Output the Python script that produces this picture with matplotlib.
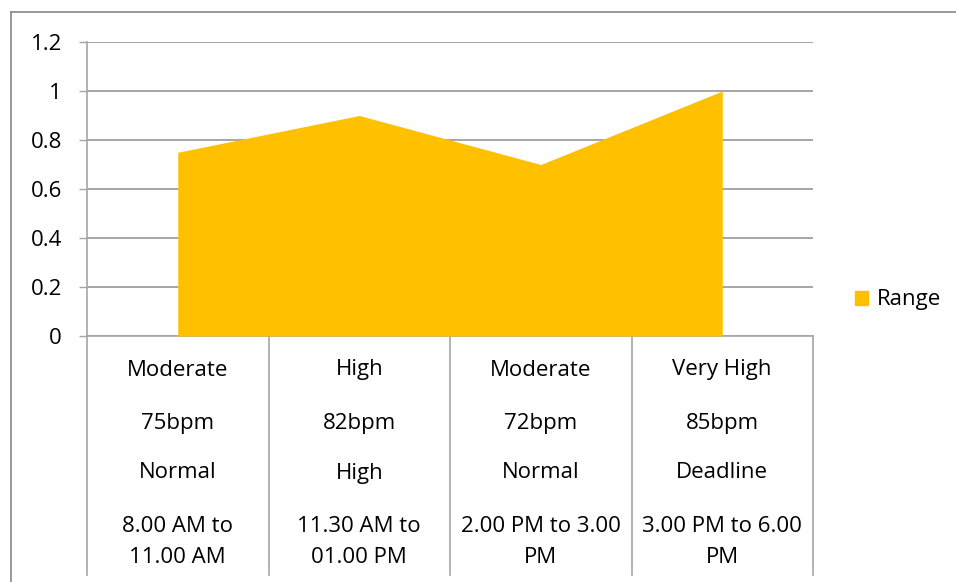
import matplotlib
matplotlib.use("Agg")
import matplotlib.pyplot as plt
from matplotlib.lines import Line2D
from matplotlib.patches import Patch
from matplotlib.transforms import blended_transform_factory
import numpy as np

plt.rcParams['font.family'] = ['Open Sans', 'DejaVu Sans']

# data
levels = ["Moderate", "High", "Moderate", "Very High"]
heart_rate = ["75bpm", "82bpm", "72bpm", "85bpm"]
status = ["Normal", "High", "Normal", "Deadline"]
times = ["8.00 AM to\n11.00 AM", "11.30 AM to\n01.00 PM",
         "2.00 PM to 3.00\nPM", "3.00 PM to 6.00\nPM"]
range_values = [0.75, 0.9, 0.7, 1.0]
y_ticks = [0, 0.2, 0.4, 0.6, 0.8, 1, 1.2]

W, H = 956, 582
FS = 16
fig = plt.figure(figsize=(W / 100, H / 100), dpi=100)

def fy(ypix):
    return 1 - ypix / H

# outer chart border (left and top only visible)
fig.add_artist(Line2D([11 / W, 11 / W], [0, fy(12)], color='#878787', lw=1.2))
fig.add_artist(Line2D([11 / W, 1], [fy(12), fy(12)], color='#878787', lw=1.2))

ax = fig.add_axes([87 / W, fy(336), (813 - 87) / W, (336 - 42) / H])
x = np.arange(len(range_values))
ax.fill_between(x, range_values, color='#FFC000', lw=0, zorder=3)
ax.set_xlim(-0.5, len(range_values) - 0.5)
ax.set_ylim(0, 1.2)
ax.set_yticks(y_ticks)
ax.set_yticklabels(["0", "0.2", "0.4", "0.6", "0.8", "1", "1.2"], fontsize=FS)
ax.yaxis.grid(True, color='#A6A6A6', lw=1.4, zorder=1)
ax.set_axisbelow(True)
ax.tick_params(axis='y', length=6, width=1, color='#A6A6A6', pad=12)
ax.tick_params(axis='x', length=0, labelbottom=False)
for s in ['top', 'right']:
    ax.spines[s].set_visible(False)
ax.spines['left'].set_color('#A6A6A6')
ax.spines['bottom'].set_color('#A6A6A6')
ax.spines['left'].set_linewidth(1.2)
ax.spines['bottom'].set_linewidth(1.2)

# multi-level category axis
tr = blended_transform_factory(ax.transData, fig.transFigure)
for b in np.arange(len(range_values) + 1) - 0.5:
    ax.add_artist(Line2D([b, b], [fy(336), fy(575)], transform=tr,
                         color='#A6A6A6', lw=1.2, clip_on=False))

rows = [(levels, 370), (heart_rate, 423), (status, 473)]
for labels, yp in rows:
    for i, t in enumerate(labels):
        ax.text(i, fy(yp), t, transform=tr, ha='center', va='center',
                fontsize=FS, clip_on=False)
for i, t in enumerate(times):
    ax.text(i, fy(542), t, transform=tr, ha='center', va='center',
            fontsize=FS, linespacing=1.65, clip_on=False)

fig.legend(handles=[Patch(color='#FFC000')], labels=["Range"],
           loc='center left', bbox_to_anchor=(835 / W, fy(300)),
           frameon=False, fontsize=FS, handlelength=0.6, handleheight=0.6,
           handletextpad=0.4)

fig.savefig("out.png", dpi=100)
